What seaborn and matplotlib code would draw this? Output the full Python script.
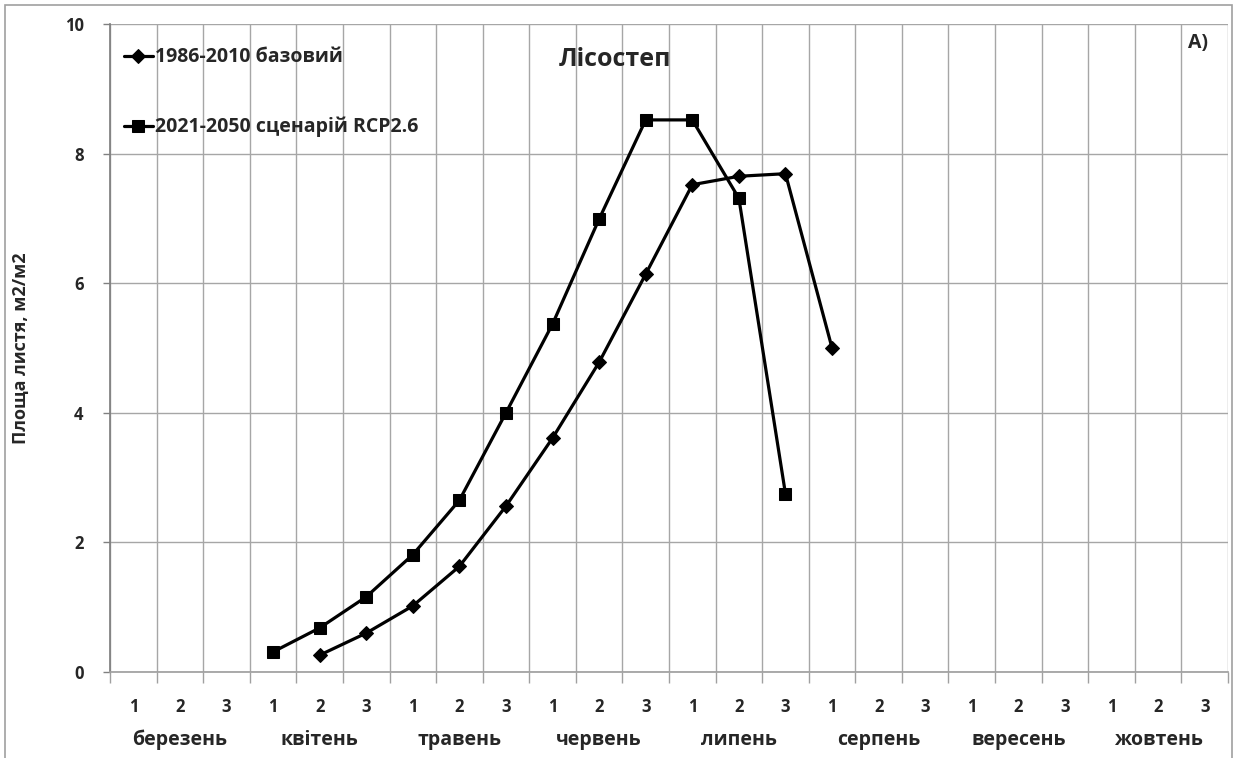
import matplotlib.pyplot as plt
import numpy as np
import pandas as pd
import seaborn as sns

months = ["березень", "квітень", "травень", "червень",
          "липень", "серпень", "вересень", "жовтень"]
decades = ["1", "2", "3"]

base_label = "1986-2010 базовий"
base_start = 4
base_values = [0.26, 0.60, 1.02, 1.63, 2.56, 3.61, 4.78, 6.14,
               7.52, 7.65, 7.69, 5.00]

rcp_label = "2021-2050 сценарій RCP2.6"
rcp_start = 3
rcp_values = [0.31, 0.68, 1.16, 1.81, 2.65, 4.00, 5.37, 6.99,
              8.52, 8.52, 7.31, 2.75]

y_ticks = [0, 2, 4, 6, 8, 10]

sns.set_theme(style="white")
plt.rcParams["font.family"] = ["Open Sans", "DejaVu Sans"]
plt.rcParams["font.weight"] = "bold"

n_cat = len(months) * len(decades)
base_df = pd.DataFrame({"x": np.arange(base_start, base_start + len(base_values)),
                        "y": base_values})
rcp_df = pd.DataFrame({"x": np.arange(rcp_start, rcp_start + len(rcp_values)),
                       "y": rcp_values})

fig = plt.figure(figsize=(12.38, 7.58), dpi=100)
ax = fig.add_axes([110 / 1238, 86 / 758, 1118 / 1238, 648 / 758])

sns.lineplot(data=base_df, x="x", y="y", ax=ax, color="black", lw=2.3,
             marker="D", markersize=7, markeredgecolor="black",
             label=base_label)
sns.lineplot(data=rcp_df, x="x", y="y", ax=ax, color="black", lw=2.3,
             marker="s", markersize=9, markeredgecolor="black",
             label=rcp_label)

ax.set_xlim(-0.5, n_cat - 0.5)
ax.set_ylim(0, 10)
ax.set_xticks(np.arange(n_cat))
ax.set_xticklabels(decades * len(months), fontsize=12, fontweight="bold")
ax.set_xticks(np.arange(n_cat + 1) - 0.5, minor=True)
ax.tick_params(axis="x", which="major", length=0, pad=19)
ax.tick_params(axis="x", which="minor", length=8, width=1, color="#a0a0a0",
               direction="out", bottom=True)
ax.set_yticks(y_ticks)
ax.set_yticklabels([str(v) for v in y_ticks], fontsize=12, fontweight="bold")
ax.tick_params(axis="y", length=5, width=1, color="#808080", left=True,
               pad=14)
ax.grid(True, which="minor", axis="x", color="#a6a6a6", lw=1)
ax.grid(True, which="major", axis="y", color="#a6a6a6", lw=1)
ax.set_axisbelow(True)

for s in ["top", "right"]:
    ax.spines[s].set_visible(False)
ax.spines["left"].set_color("#808080")
ax.spines["bottom"].set_color("#a0a0a0")

ax.set_xlabel("")
ax.set_ylabel("Площа листя, м2/м2", fontsize=13, fontweight="bold")
ax.yaxis.set_label_coords(-0.0716, 0.5)

for i, m in enumerate(months):
    ax.text(3 * i + 1, -1.05, m, ha="center", va="center", fontsize=14,
            fontweight="bold", transform=ax.transData, clip_on=False)

ax.text(0.452, 0.945, "Лісостеп", transform=ax.transAxes, ha="center",
        va="center", fontsize=18, fontweight="bold")
ax.text(0.982, 0.97, "A)", transform=ax.transAxes, ha="right",
        va="center", fontsize=14, fontweight="bold")

leg = ax.legend(loc="upper left", bbox_to_anchor=(0.0, 0.985), frameon=False,
                handlelength=1.5, handletextpad=0.1, labelspacing=2.55,
                borderaxespad=0.3, prop={"size": 14, "weight": "bold"})

fig.patches.append(plt.Rectangle((5 / 1238, -0.01), 1227 / 1238, 1.0 - 5 / 758 + 0.01,
                                 transform=fig.transFigure, fill=False,
                                 edgecolor="#a0a0a0", lw=1.2))

fig.savefig("out.png", dpi=100)
